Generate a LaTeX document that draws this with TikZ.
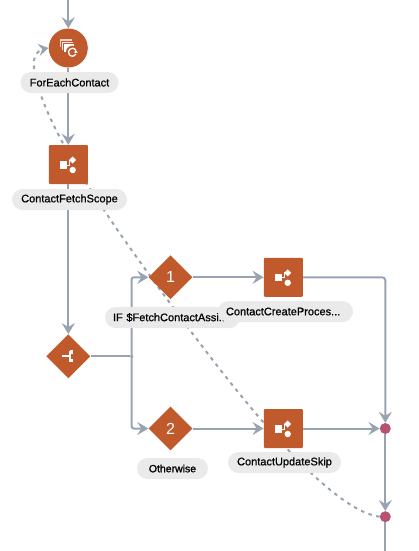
\documentclass[tikz,border=0pt]{standalone}
\usepackage{fontspec}
\setmainfont{Liberation Sans}
\newfontfamily\labelfont[RawFeature={embolden=0.7}]{Liberation Sans}
\newfontfamily\strongfont[RawFeature={embolden=1.4}]{Liberation Sans}
\usepackage{tikz}
\usetikzlibrary{arrows.meta,positioning,calc,shapes.geometric,backgrounds}
\definecolor{flowgray}{RGB}{151,163,176}
\definecolor{actorange}{RGB}{192,90,44}
\definecolor{pillgray}{RGB}{234,234,234}
\definecolor{mergepink}{RGB}{181,83,112}
\tikzset{
  flow/.style={-{Stealth[length=11pt,width=13pt,inset=4pt]}, draw=flowgray, line width=2pt},
  plainflow/.style={draw=flowgray, line width=2pt},
  backflow/.style={-{Stealth[length=10pt,width=12pt,inset=3.5pt]}, draw=flowgray, line width=2pt, dash pattern=on 3.5pt off 4.5pt},
  loopnode/.style={circle, fill=actorange, minimum size=39pt, inner sep=0pt},
  scopenode/.style={rectangle, fill=actorange, rounded corners=1pt, minimum size=39pt, inner sep=0pt},
  switchnode/.style={diamond, fill=actorange, minimum size=44pt, inner sep=0pt, text=white, font=\fontsize{16}{16}\selectfont},
  mergenode/.style={circle, fill=mergepink, minimum size=11pt, inner sep=0pt},
  pill/.style={fill=pillgray, rounded corners=10.5pt, minimum height=21pt, inner sep=0pt, font=\labelfont\fontsize{11}{12}\selectfont},
  longpill/.style={pill, text width=119pt, inner xsep=8pt, align=left},
  joint/.style={circle, fill=flowgray, minimum size=3.5pt, inner sep=0pt}
}
% white glyph of a scope box
\newcommand{\scopeglyph}[1]{
  \begin{scope}[shift={(#1)}]
    \fill[white] (-8.3,-3.5) rectangle (-1.3,4);
    \draw[white, line width=0.8pt] (-1.3,0.5) -- (1,0.5) -- (1,-4.5) -- (4,-4.5);
    \fill[white] (4.4,-8) -- (7.9,-4.5) -- (4.4,-1) -- (0.9,-4.5) -- cycle;
    \fill[white] (4.4,5.5) circle (3.2pt);
  \end{scope}
}
% white glyph of a for-each loop
\newcommand{\loopglyph}[1]{
  \begin{scope}[shift={(#1)}]
    \fill[white!75!actorange] (-8,-9) rectangle (4,-1);
    \fill[white!88!actorange, draw=actorange, line width=0.6pt] (-7,-7) rectangle (5,2);
    \fill[white, draw=actorange, line width=0.6pt] (-5.5,-5) rectangle (6,4.5);
    \fill[actorange] (4.2,4.2) circle (6.5pt);
    \draw[white, line width=1.3pt] (4.2,4.2) +(40:4pt) arc (40:330:4pt);
    \fill[white] (7,1.5) -- (9.5,4.5) -- (6,5) -- cycle;
  \end{scope}
}
% white glyph of a switch
\newcommand{\splitglyph}[1]{
  \begin{scope}[shift={(#1)}]
    \fill[white] (-6.5,-1) rectangle (1,1);
    \fill[white] (1,-5.5) rectangle (2.5,5.5);
    \fill[white] (2,-6) rectangle (5,-2.5);
    \fill[white] (2,2.5) rectangle (5,6);
  \end{scope}
}
\begin{document}
\begin{tikzpicture}[x=1pt,y=-1pt]
\useasboundingbox (0,0) rectangle (419,551);
\coordinate (top) at (68.3,0);
\coordinate (bottom) at (385.3,551);
\coordinate (corner) at (385.3,277.3);
\coordinate (bend1) at (175,310);
\coordinate (bend2) at (34,68);
% nodes
\node[loopnode] (foreach) at (68.3,48) {};
\node[scopenode] (fetch) at (68.3,164.5) {};
\node[switchnode] (split) at (68.3,356.3) {};
\node[switchnode] (case1) at (170.5,277.3) {1};
\node[switchnode] (case2) at (170.5,428.5) {2};
\node[scopenode] (create) at (283.3,277.3) {};
\node[scopenode] (skip) at (283.3,428.5) {};
\node[mergenode] (merge1) at (385.3,428.5) {};
\node[mergenode] (merge2) at (385.3,516.7) {};
\node[joint] (fork) at (131.7,356.3) {};
% back link, under everything else
\begin{scope}[on background layer]
\draw[backflow] (merge2.west) .. controls (330,510) and (245,405) .. (bend1)
  .. controls (105,215) and (42,125) .. (bend2)
  .. controls (32,58) and (38,50) .. (foreach.west);
\end{scope}
% connectors
\draw[flow] (top) -- (foreach);
\draw[flow] (foreach) -- (fetch);
\draw[flow] (fetch) -- (split);
\draw[plainflow] (split) -- (fork);
\draw[flow, rounded corners=2pt] (fork.center) |- (case1);
\draw[flow, rounded corners=2pt] (fork.center) |- (case2);
\draw[flow] (case1) -- (create);
\draw[flow] (case2) -- (skip);
\draw[flow] (skip) -- (merge1);
\draw[flow, rounded corners=3pt] (create) -- (corner) -- (merge1);
\draw[flow] (merge1) -- (merge2);
\draw[plainflow] (merge2) -- (bottom);
% labels
\node[pill, minimum width=98pt] (foreachlbl) at (69.5,82.5) {ForEachContact};
\node[pill, minimum width=115pt] (fetchlbl) at (69.5,199.5) {ContactFetchScope};
\node[longpill] (case1lbl) at (172.5,317.5) {IF \$FetchContactAssi..};
\node[longpill] (createlbl) at (285.5,311.5) {ContactCreateProces...};
\node[pill, minimum width=71pt, font=\strongfont\fontsize{10.5}{12}\selectfont] (case2lbl) at (172.5,468.5) {Otherwise};
\node[pill, minimum width=113pt] (skiplbl) at (284.5,462.5) {ContactUpdateSkip};
% glyphs
\loopglyph{foreach.center}
\scopeglyph{fetch.center}
\scopeglyph{create.center}
\scopeglyph{skip.center}
\splitglyph{split.center}
\end{tikzpicture}
\end{document}
